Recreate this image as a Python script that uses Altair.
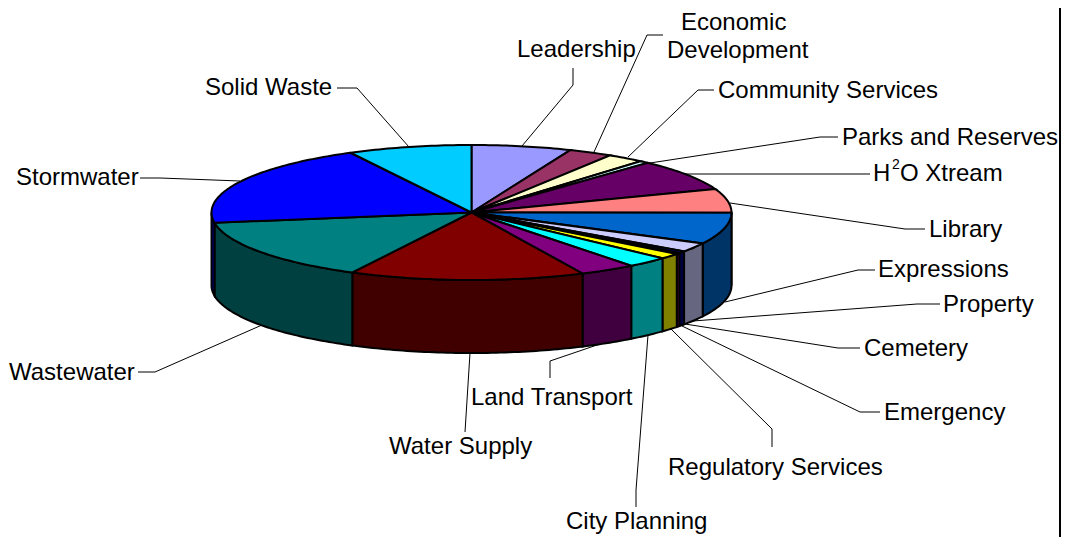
import math
import altair as alt
import pandas as pd

labels = ["Leadership", "Economic Development", "Community Services", "Parks and Reserves",
          "H2O Xtream", "Library", "Expressions", "Property", "Cemetery", "Emergency",
          "Regulatory Services", "City Planning", "Land Transport", "Water Supply",
          "Wastewater", "Stormwater", "Solid Waste"]
shares = [6.2, 2.75, 2.3, 0.6, 7.5, 5.7, 7.5, 2.2, 0.5, 0.25, 1.35, 2.6, 3.5, 14.6, 15.0, 19.7, 7.7]
top_colors = ["#9999FF", "#993366", "#FFFFCC", "#CCFFFF", "#660066", "#FF8080", "#0066CC", "#CCCCFF",
              "#000080", "#FF00FF", "#FFFF00", "#00FFFF", "#800080", "#800000", "#008080", "#0000FF", "#00CCFF"]
side_colors = ["#4D4D80", "#4D1A33", "#808066", "#668080", "#330033", "#804040", "#003366", "#666680",
               "#000040", "#800080", "#808000", "#008080", "#400040", "#400000", "#004040", "#000080", "#006680"]

W, H = 1053, 529
CX, CY, RX, RY, DEPTH = 471.5, 212.5, 260.0, 67.5, 73.0

def rim(t, dy=0.0):
    return CX + RX * math.sin(t), CY - RY * math.cos(t) + dy

def sweep(a, b):
    n = max(2, int(math.degrees(b - a)) + 2)
    return [a + (b - a) * i / (n - 1) for i in range(n)]

total = sum(shares)
tops, sides = [], []
acc = 0.0
for name, share in zip(labels, shares):
    a = acc / total * 2 * math.pi
    acc += share
    b = acc / total * 2 * math.pi
    pts = [(CX, CY)] + [rim(t) for t in sweep(a, b)] + [(CX, CY)]
    for i, (x, y) in enumerate(pts):
        tops.append({"slice": name, "i": i, "x": x, "y": y})
    lo, hi = max(a, math.pi / 2), min(b, 3 * math.pi / 2)
    if hi > lo:
        arc = sweep(lo, hi)
        pts = [rim(t) for t in arc] + [rim(t, DEPTH) for t in reversed(arc)]
        pts.append(pts[0])
        for i, (x, y) in enumerate(pts):
            sides.append({"slice": name, "i": i, "x": x, "y": y})

x_enc = alt.X("x:Q", scale=alt.Scale(domain=[8, 8 + W]), axis=None)
y_enc = alt.Y("y:Q", scale=alt.Scale(domain=[8 + H, 8]), axis=None)

side_layer = alt.Chart(pd.DataFrame(sides)).mark_line(stroke="black", strokeWidth=2, clip=False).encode(
    x=x_enc, y=y_enc, order="i:Q",
    fill=alt.Fill("slice:N", scale=alt.Scale(domain=labels, range=side_colors), legend=None))
top_layer = alt.Chart(pd.DataFrame(tops)).mark_line(stroke="black", strokeWidth=2, clip=False).encode(
    x=x_enc, y=y_enc, order="i:Q",
    fill=alt.Fill("slice:N", scale=alt.Scale(domain=labels, range=top_colors), legend=None))

leaders = {
    "Leadership": [(573, 68), (573, 85), (522, 146)],
    "Economic Development": [(663, 35), (647, 35), (594, 152)],
    "Community Services": [(714, 90), (698, 90), (628, 157)],
    "Parks and Reserves": [(838, 137), (820, 137), (650, 163)],
    "H2O Xtream": [(870, 174), (850, 174), (685, 174)],
    "Library": [(925, 229), (905, 229), (730, 203)],
    "Expressions": [(875, 270), (858, 270), (725, 302)],
    "Property": [(940, 304), (917, 304), (693, 321)],
    "Cemetery": [(860, 348), (838, 348), (685, 324)],
    "Emergency": [(880, 412), (860, 412), (682, 326)],
    "Regulatory Services": [(772, 447), (772, 429), (671, 329)],
    "City Planning": [(636, 507), (636, 490), (648, 335)],
    "Land Transport": [(550, 378), (550, 361), (600, 344)],
    "Water Supply": [(465, 432), (470, 353)],
    "Wastewater": [(138, 372), (155, 372), (262, 325)],
    "Stormwater": [(140, 178), (160, 178), (240, 181)],
    "Solid Waste": [(337, 88), (357, 88), (409, 147)],
}
leader_rows = [{"slice": k, "i": i, "x": p[0], "y": p[1]} for k, v in leaders.items() for i, p in enumerate(v)]
leader_layer = alt.Chart(pd.DataFrame(leader_rows)).mark_line(stroke="black", strokeWidth=1, clip=False).encode(
    x=x_enc, y=y_enc, order="i:Q", detail="slice:N")

texts = [("Leadership", 517, 50), ("Economic", 681, 23), ("Development", 667, 51),
         ("Community Services", 718, 91), ("Parks and Reserves", 842, 138),
         ("H", 873, 174), ("O Xtream", 900, 174), ("Library", 929, 230), ("Expressions", 878, 270),
         ("Property", 943, 305), ("Cemetery", 864, 349), ("Emergency", 884, 413),
         ("Regulatory Services", 668, 468), ("City Planning", 566, 522), ("Land Transport", 471, 398),
         ("Water Supply", 389, 447), ("Wastewater", 9, 373), ("Stormwater", 16, 178), ("Solid Waste", 205, 88)]
text_layer = alt.Chart(pd.DataFrame(texts, columns=["t", "x", "y"])).mark_text(
    font="Liberation Sans", fontSize=24, align="left", baseline="middle", color="black", clip=False
).encode(x=x_enc, y=y_enc, text="t:N")
sup_layer = alt.Chart(pd.DataFrame([{"t": "2", "x": 892, "y": 165}])).mark_text(
    font="Liberation Sans", fontSize=14, align="left", baseline="middle", color="black", clip=False
).encode(x=x_enc, y=y_enc, text="t:N")

border = alt.Chart(pd.DataFrame([{"x": 1060, "y": 8, "y2": 8 + H}])).mark_rule(
    color="black", strokeWidth=2, clip=False).encode(x=x_enc, y=y_enc, y2="y2:Q")

chart = (leader_layer + side_layer + top_layer + text_layer + sup_layer + border).resolve_scale(
    fill="independent"
).properties(
    width=W, height=H, padding=0, autosize=alt.AutoSizeParams(type="none"), background="white"
).configure_view(stroke=None)

chart.save("out.html", embed_options={"renderer": "svg", "actions": False})
